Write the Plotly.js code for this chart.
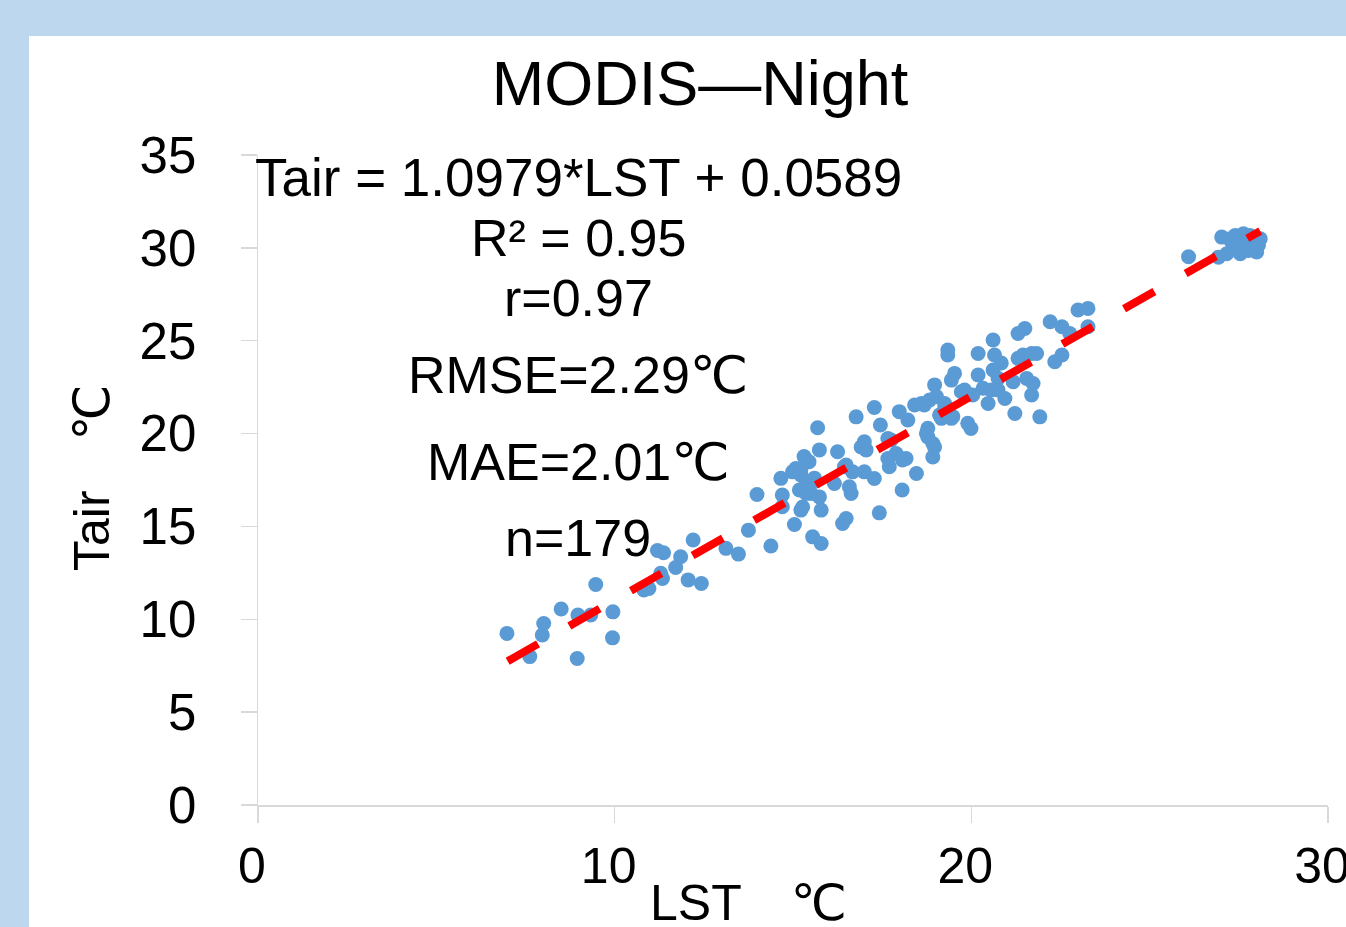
<!DOCTYPE html>
<html>
<head>
<meta charset="utf-8">
<script src="https://cdn.plot.ly/plotly-3.0.1.min.js"></script>
<style>
html,body{margin:0;padding:0;background:#BDD7EE;overflow:hidden;width:1346px;height:927px;}
#chart{position:absolute;left:29px;top:36px;width:1317px;height:891px;background:#fff;}
</style>
</head>
<body>
<div id="chart"></div>
<script>
// Observed points: LST (°C) vs Tair (°C)
const lst = [
6.98,7.62,8.01,7.97,8.50,8.97,8.95,9.33,9.47,9.95,9.94,10.82,10.96,11.20,11.37,11.29,11.34,11.71,11.85,12.20,
12.06,12.43,13.12,13.47,13.75,14.38,13.99,14.70,14.66,14.70,14.99,15.04,15.22,15.27,15.18,15.22,15.31,15.45,15.37,15.55,
15.79,15.69,15.74,15.55,15.74,15.79,15.51,16.39,16.49,16.25,16.16,16.49,16.67,16.58,16.63,16.77,17.00,17.05,17.00,17.28,
17.42,17.45,17.28,17.66,17.66,17.70,17.89,18.17,18.06,18.46,17.98,18.22,18.78,18.78,18.92,18.92,18.41,18.60,18.83,18.97,
19.02,18.97,17.75,19.34,19.34,19.53,19.44,19.72,19.25,19.16,19.48,19.90,19.99,19.81,20.04,20.33,20.19,20.19,20.47,20.61,
20.65,20.61,20.75,20.75,20.94,21.17,21.22,21.31,21.31,21.50,21.45,21.69,21.83,21.55,21.73,21.69,21.92,22.21,22.54,22.76,
22.54,22.34,22.99,23.27,23.27,15.08,15.22,15.60,15.37,16.44,16.91,18.68,19.11,18.74,18.07,20.84,20.56,19.25,19.44,26.09,
26.93,27.02,27.26,27.35,27.40,27.63,27.54,27.77,28.00,28.05,28.10,27.87,27.58,27.81,27.16,27.70,27.45,27.95,27.30
];
const tair = [
9.24,7.99,9.77,9.15,10.55,10.23,7.89,10.23,11.87,10.40,9.00,11.58,11.66,13.70,13.58,12.48,12.20,12.79,13.37,14.27,
12.12,11.93,13.82,13.51,14.80,13.95,16.72,16.06,17.59,16.69,17.94,15.10,15.88,16.05,16.96,18.04,18.76,18.48,16.77,14.44,
14.08,20.31,19.12,17.41,16.59,15.88,16.77,15.16,15.43,19.02,17.31,18.31,17.94,17.13,16.77,20.90,19.56,19.12,17.94,17.58,
15.73,20.46,21.40,19.73,18.66,18.21,18.93,18.66,16.96,17.85,21.18,20.73,20.28,19.82,19.46,18.74,21.54,21.62,21.81,22.62,
21.99,19.28,19.65,24.50,24.23,23.24,22.88,22.25,21.36,20.82,20.91,20.55,20.27,22.35,22.08,22.44,23.15,24.31,21.62,25.04,
24.23,23.42,22.97,22.35,21.89,22.79,21.08,24.05,25.39,25.66,24.23,24.31,24.31,22.97,22.70,22.08,20.90,26.02,25.75,25.39,
24.23,23.87,26.65,26.74,25.75,18.12,17.77,17.60,17.31,18.21,19.28,21.54,21.00,20.01,18.58,23.80,22.35,21.62,20.82,29.52,
29.50,30.58,30.49,30.04,30.67,30.76,29.68,29.86,29.78,30.14,30.49,30.32,30.22,30.67,29.68,30.50,30.35,30.00,30.30
];
// Fitted line endpoints: Tair = 1.0979*LST + 0.0589
const fitLst = [7.0, 28.1];
const fitTair = [7.74, 30.91];

const xTicks = [0, 10, 20, 30];
const yTicks = [0, 5, 10, 15, 20, 25, 30, 35];

const titleText = "MODIS\u2014Night";
const statLines = [
  "Tair = 1.0979*LST + 0.0589",
  "R\u00B2 = 0.95",
  "r=0.97",
  "RMSE=2.29\u2103",
  "MAE=2.01\u2103",
  "n=179"
];
const xTitle = "LST\u3000\u2103";
const yTitle = "Tair\u3000\u2103";

const FONT = "'Liberation Sans', Arial, 'DejaVu Sans', sans-serif";

// plot area in page px: x 258..1328, y 155..805
function px2paperX(px){ return (px - 258) / 1070; }
function px2paperY(py){ return (805 - py) / 650; }

const statY = [178, 238, 298, 375, 462, 538];
const statSize = [53, 52, 52, 52, 52, 52];
const annotations = statLines.map((t, i) => ({
  text: t, xref: 'paper', yref: 'paper',
  x: px2paperX(578), y: px2paperY(statY[i]),
  xanchor: 'center', yanchor: 'middle', showarrow: false,
  font: {family: FONT, size: statSize[i], color: '#000'}
}));
annotations.push({
  text: yTitle, xref: 'paper', yref: 'paper',
  x: px2paperX(92), y: px2paperY(478), textangle: -90,
  xanchor: 'center', yanchor: 'middle', showarrow: false,
  font: {family: FONT, size: 50, color: '#000'}
});
annotations.push({
  text: xTitle, xref: 'paper', yref: 'paper',
  x: px2paperX(748), y: px2paperY(903),
  xanchor: 'center', yanchor: 'middle', showarrow: false,
  font: {family: FONT, size: 50, color: '#000'}
});

const traces = [
  {
    x: lst, y: tair, type: 'scatter', mode: 'markers',
    marker: {color: '#5B9BD5', size: 15, line: {width: 0}},
    hoverinfo: 'x+y'
  },
  {
    x: fitLst, y: fitTair, type: 'scatter', mode: 'lines',
    line: {color: '#FF0000', width: 8, dash: '35px,36px'},
    hoverinfo: 'skip'
  }
];

const layout = {
  width: 1317, height: 891,
  margin: {l: 229, r: 18, t: 119, b: 122, pad: 0},
  paper_bgcolor: '#FFFFFF', plot_bgcolor: '#FFFFFF',
  showlegend: false,
  font: {family: FONT, color: '#000'},
  title: {
    text: titleText, xref: 'container', yref: 'container',
    x: (700 - 29) / 1317, y: 1 - (83 - 36) / 891,
    xanchor: 'center', yanchor: 'middle',
    font: {family: FONT, size: 63, color: '#000'}
  },
  xaxis: {
    range: [0, 30], tickvals: xTicks, ticktext: xTicks.map(String),
    showgrid: false, zeroline: false,
    showline: true, linecolor: '#D9D9D9', linewidth: 1.5,
    ticks: 'outside', ticklen: 16, tickwidth: 1.5, tickcolor: '#D9D9D9',
    tickfont: {family: FONT, size: 50, color: '#000'},
    ticklabelshift: -6, ticklabelstandoff: 0, ticklabeloverflow: 'allow',
    fixedrange: true
  },
  yaxis: {
    range: [0, 35], tickvals: yTicks, ticktext: yTicks.map(String),
    showgrid: false, zeroline: false,
    showline: true, linecolor: '#D9D9D9', linewidth: 1.5,
    ticks: 'outside', ticklen: 16, tickwidth: 1.5, tickcolor: '#D9D9D9',
    tickfont: {family: FONT, size: 51, color: '#000'},
    ticklabelstandoff: 34, ticklabeloverflow: 'allow',
    fixedrange: true
  },
  annotations: annotations
};

Plotly.newPlot('chart', traces, layout, {displayModeBar: false, staticPlot: true});
</script>
</body>
</html>
